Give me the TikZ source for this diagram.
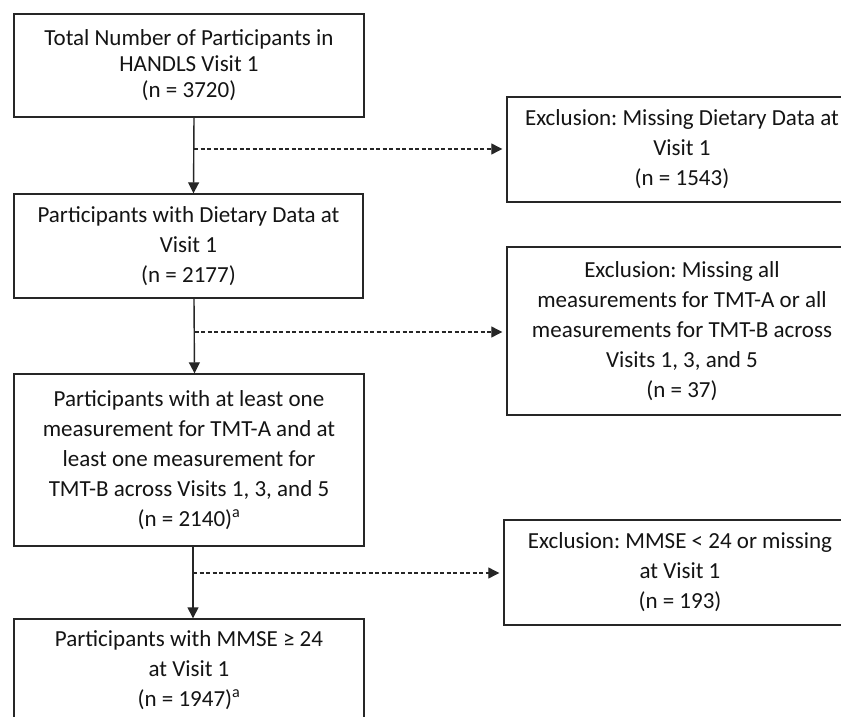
\documentclass[tikz,border=0pt]{standalone}
\usepackage{fontspec}
\setmainfont{Carlito}
\usetikzlibrary{arrows.meta}
\frenchspacing
\begin{document}
\begin{tikzpicture}[x=1pt,y=-1pt,
  box/.style={draw=black!85, line width=1.4pt, inner sep=0pt, align=center,
    minimum width=350pt, text=black!92, font=\fontsize{23}{30}\selectfont},
  arr/.style={draw=black!85, line width=1.4pt, -{Triangle[length=11pt,width=11pt]}},
  dasharr/.style={draw=black!85, line width=1.2pt, dash pattern=on 4pt off 2.5pt,
    -{Triangle[length=11pt,width=11pt]}, shorten >=4pt}]
\useasboundingbox (0,0) rectangle (841,717);
\clip (0,0) rectangle (841,717);
\fill[white] (0,0) rectangle (841,717);

\node[box, minimum height=103pt, font=\fontsize{23}{26}\selectfont] (b1) at (189,65.5)
  {Total Number of Participants in\\HANDLS Visit 1\\(n = 3720)};
\node[box, minimum height=104pt, minimum width=349pt] (b2) at (188.5,246)
  {Participants with Dietary Data at\\Visit 1\\(n = 2177)};
\node[box, minimum height=172pt] (b3) at (189,460)
  {Participants with at least one\\measurement for TMT-A and at\\least one measurement for\\TMT-B across Visits 1, 3, and 5\\(n = 2140)\textsuperscript{a}};
\node[box, minimum height=103pt] (b4) at (189,670.5)
  {Participants with MMSE ≥ 24\\at Visit 1\\(n = 1947)\textsuperscript{a}};

\node[box, minimum height=105pt] (e1) at (682,149.5)
  {Exclusion: Missing Dietary Data at\\Visit 1\\(n = 1543)};
\node[box, minimum height=168pt] (e2) at (682,331)
  {Exclusion: Missing all\\measurements for TMT-A or all\\measurements for TMT-B across\\Visits 1, 3, and 5\\(n = 37)};
\node[box, minimum height=105pt, minimum width=352pt] (e3) at (680,572.5)
  {Exclusion: MMSE < 24 or missing\\at Visit 1\\(n = 193)};

\draw[arr] ([xshift=5pt]b1.south) -- ([xshift=5pt]b2.north);
\draw[arr] ([xshift=5.5pt]b2.south) -- ([xshift=5.5pt]b3.north);
\draw[arr] ([xshift=4pt]b3.south) -- ([xshift=4pt]b4.north);

\coordinate (d1) at (194,149);
\coordinate (d2) at (194.5,332);
\coordinate (d3) at (193,573);
\draw[dasharr] (d1) -- (d1 -| e1.west);
\draw[dasharr] (d2) -- (d2 -| e2.west);
\draw[dasharr] (d3) -- (d3 -| e3.west);
\end{tikzpicture}
\end{document}
